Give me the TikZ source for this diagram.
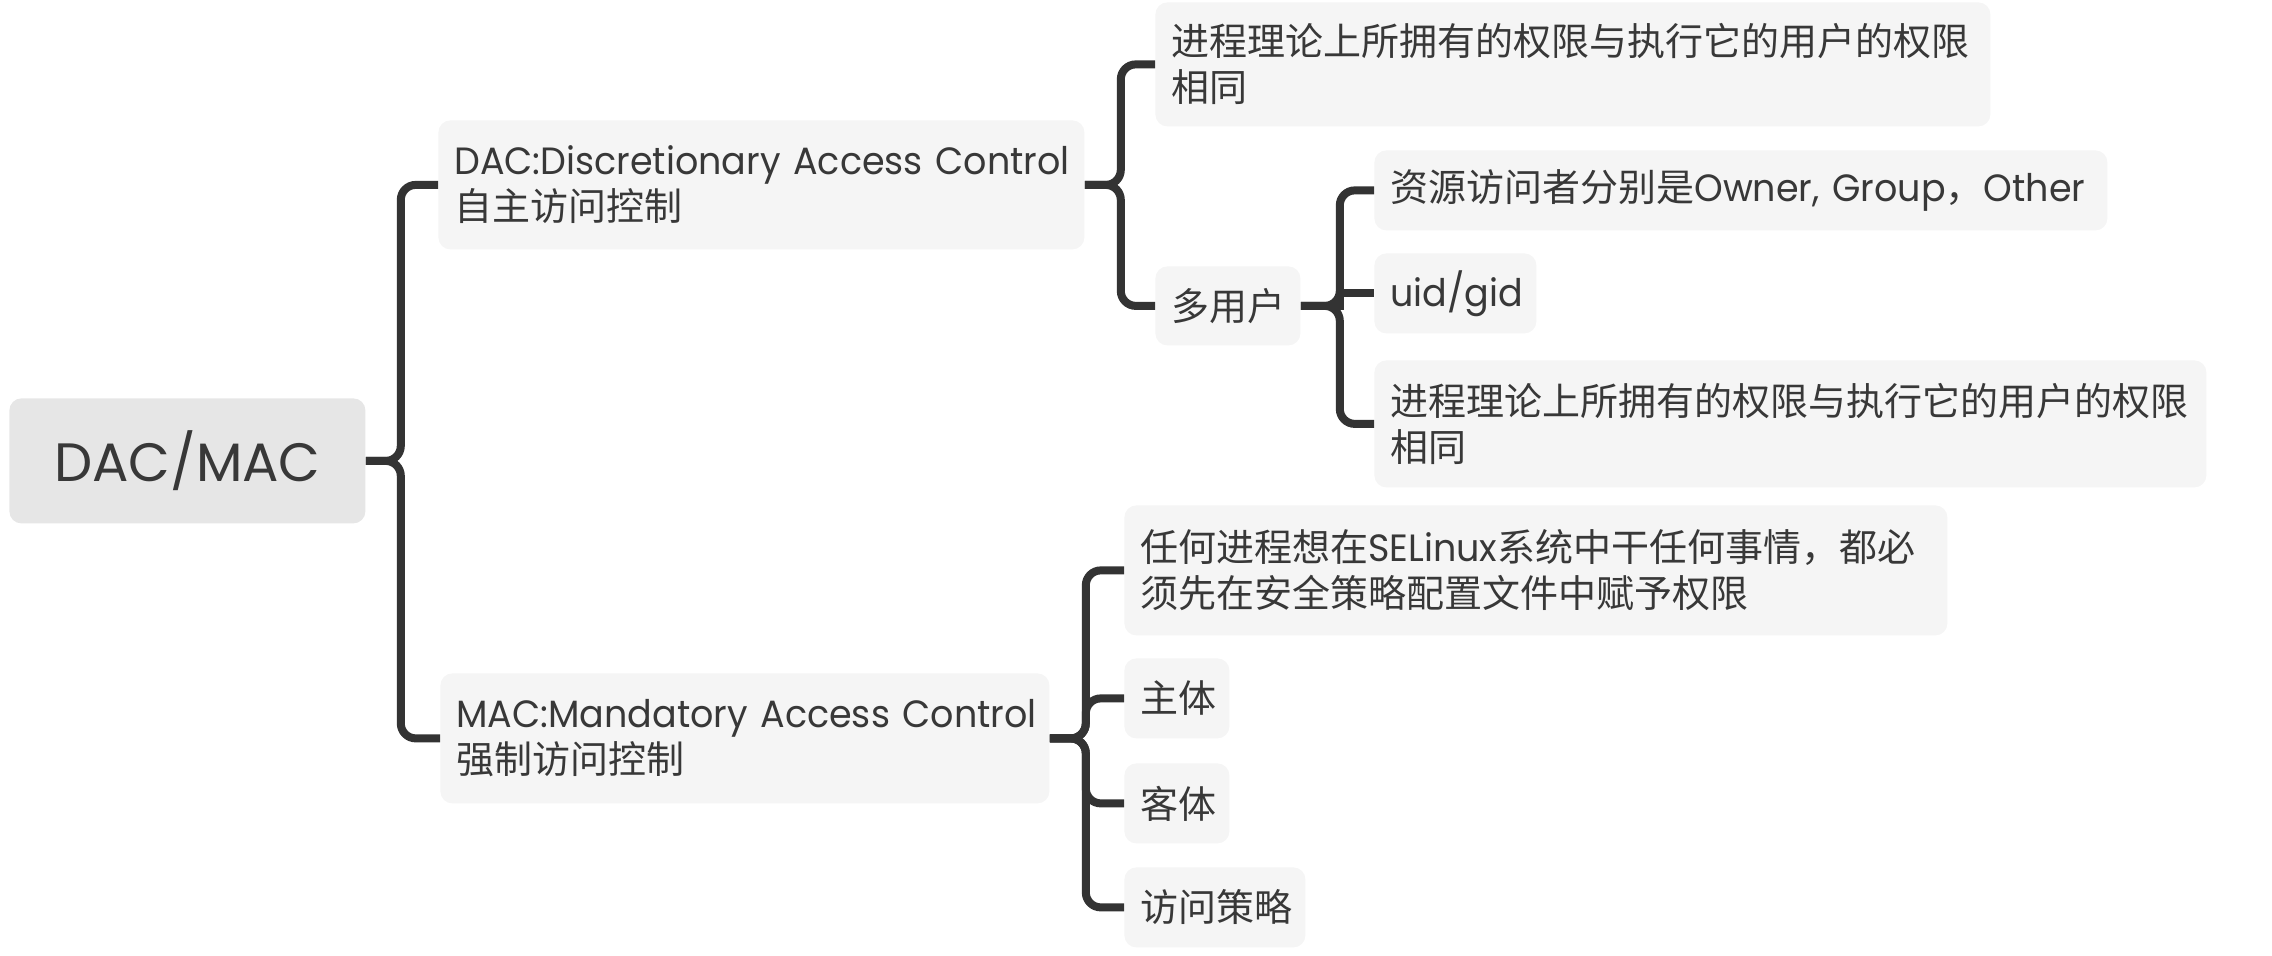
\documentclass[tikz,border=0pt]{standalone}
\usepackage{fontspec}
\setmainfont{Poppins}[FakeStretch=0.96]
\newfontfamily\rootfont{Poppins}
\newfontfamily\cjk{Noto Sans CJK SC}
\definecolor{linec}{HTML}{333333}
\definecolor{textc}{HTML}{383838}
\definecolor{boxfill}{HTML}{F5F5F5}
\definecolor{rootfill}{HTML}{E6E6E6}
\begin{document}
\begin{tikzpicture}[x=0.5pt,y=-0.5pt,
  conn/.style={draw=linec, line width=4pt, rounded corners=7.5pt},
  sharpconn/.style={draw=linec, line width=4pt},
  bx/.style={fill=boxfill, rounded corners=6pt, anchor=north west, inner xsep=8pt, inner ysep=0pt, align=left, text=textc, font=\fontsize{19pt}{23pt}\selectfont},
]
\useasboundingbox (0,0) rectangle (2272,956);
% nodes
\node[bx, fill=rootfill, minimum width=178pt, minimum height=62.5pt, align=center, font=\rootfont\fontsize{27pt}{32pt}\selectfont] (root) at (9,398) {DAC/MAC};
\node[bx, text width=307pt, minimum height=64.5pt] (dac) at (438,120) {\mbox{DAC:Discretionary Access Control}\\{\cjk 自主访问控制}};
\node[bx, text width=401.5pt, minimum height=62pt] (c1) at (1155,2) {{\cjk 进程理论上所拥有的权限与执行它的用户的权限}\\{\cjk 相同}};
\node[bx, text width=56.5pt, minimum height=39.5pt] (duo) at (1155,266) {{\cjk 多用户}};
\node[bx, text width=350.5pt, minimum height=40pt] (res) at (1374,150) {\mbox{{\cjk 资源访问者分别是}Owner, Group{\cjk ，}Other}};
\node[bx, text width=65pt, minimum height=40pt] (uid) at (1374,253) {uid/gid};
\node[bx, text width=400pt, minimum height=63.5pt] (c2) at (1374,360) {{\cjk 进程理论上所拥有的权限与执行它的用户的权限}\\{\cjk 相同}};
\node[bx, text width=288.5pt, minimum height=65pt] (mac) at (440,673) {\mbox{MAC:Mandatory Access Control}\\{\cjk 强制访问控制}};
\node[bx, text width=395.5pt, minimum height=65pt] (sel) at (1124,505) {\mbox{{\cjk 任何进程想在}SELinux{\cjk 系统中干任何事情，都必}}\\{\cjk 须先在安全策略配置文件中赋予权限}};
\node[bx, text width=36.5pt, minimum height=40pt] (zhu) at (1124,658) {{\cjk 主体}};
\node[bx, text width=36.5pt, minimum height=40pt] (ke) at (1124,763) {{\cjk 客体}};
\node[bx, text width=74.5pt, minimum height=40pt] (fang) at (1124,867) {{\cjk 访问策略}};
% connectors
\draw[conn] (root.east) -- ++(35,0) |- (dac.west);
\draw[conn] (root.east) -- ++(35,0) |- (mac.west);
\draw[conn] (dac.east) -- ++(36,0) |- (c1.west);
\draw[conn] (dac.east) -- ++(36,0) |- (duo.west);
\draw[conn] (duo.east) -- ++(39,0) |- (res.west);
\draw[sharpconn] (duo.east) -- ++(39,0) |- (uid.west);
\draw[conn] (duo.east) -- ++(39,0) |- (c2.west);
\draw[conn] (mac.east) -- ++(36,0) |- (sel.west);
\draw[conn] (mac.east) -- ++(36,0) |- (zhu.west);
\draw[conn] (mac.east) -- ++(36,0) |- (ke.west);
\draw[conn] (mac.east) -- ++(36,0) |- (fang.west);
\end{tikzpicture}
\end{document}
